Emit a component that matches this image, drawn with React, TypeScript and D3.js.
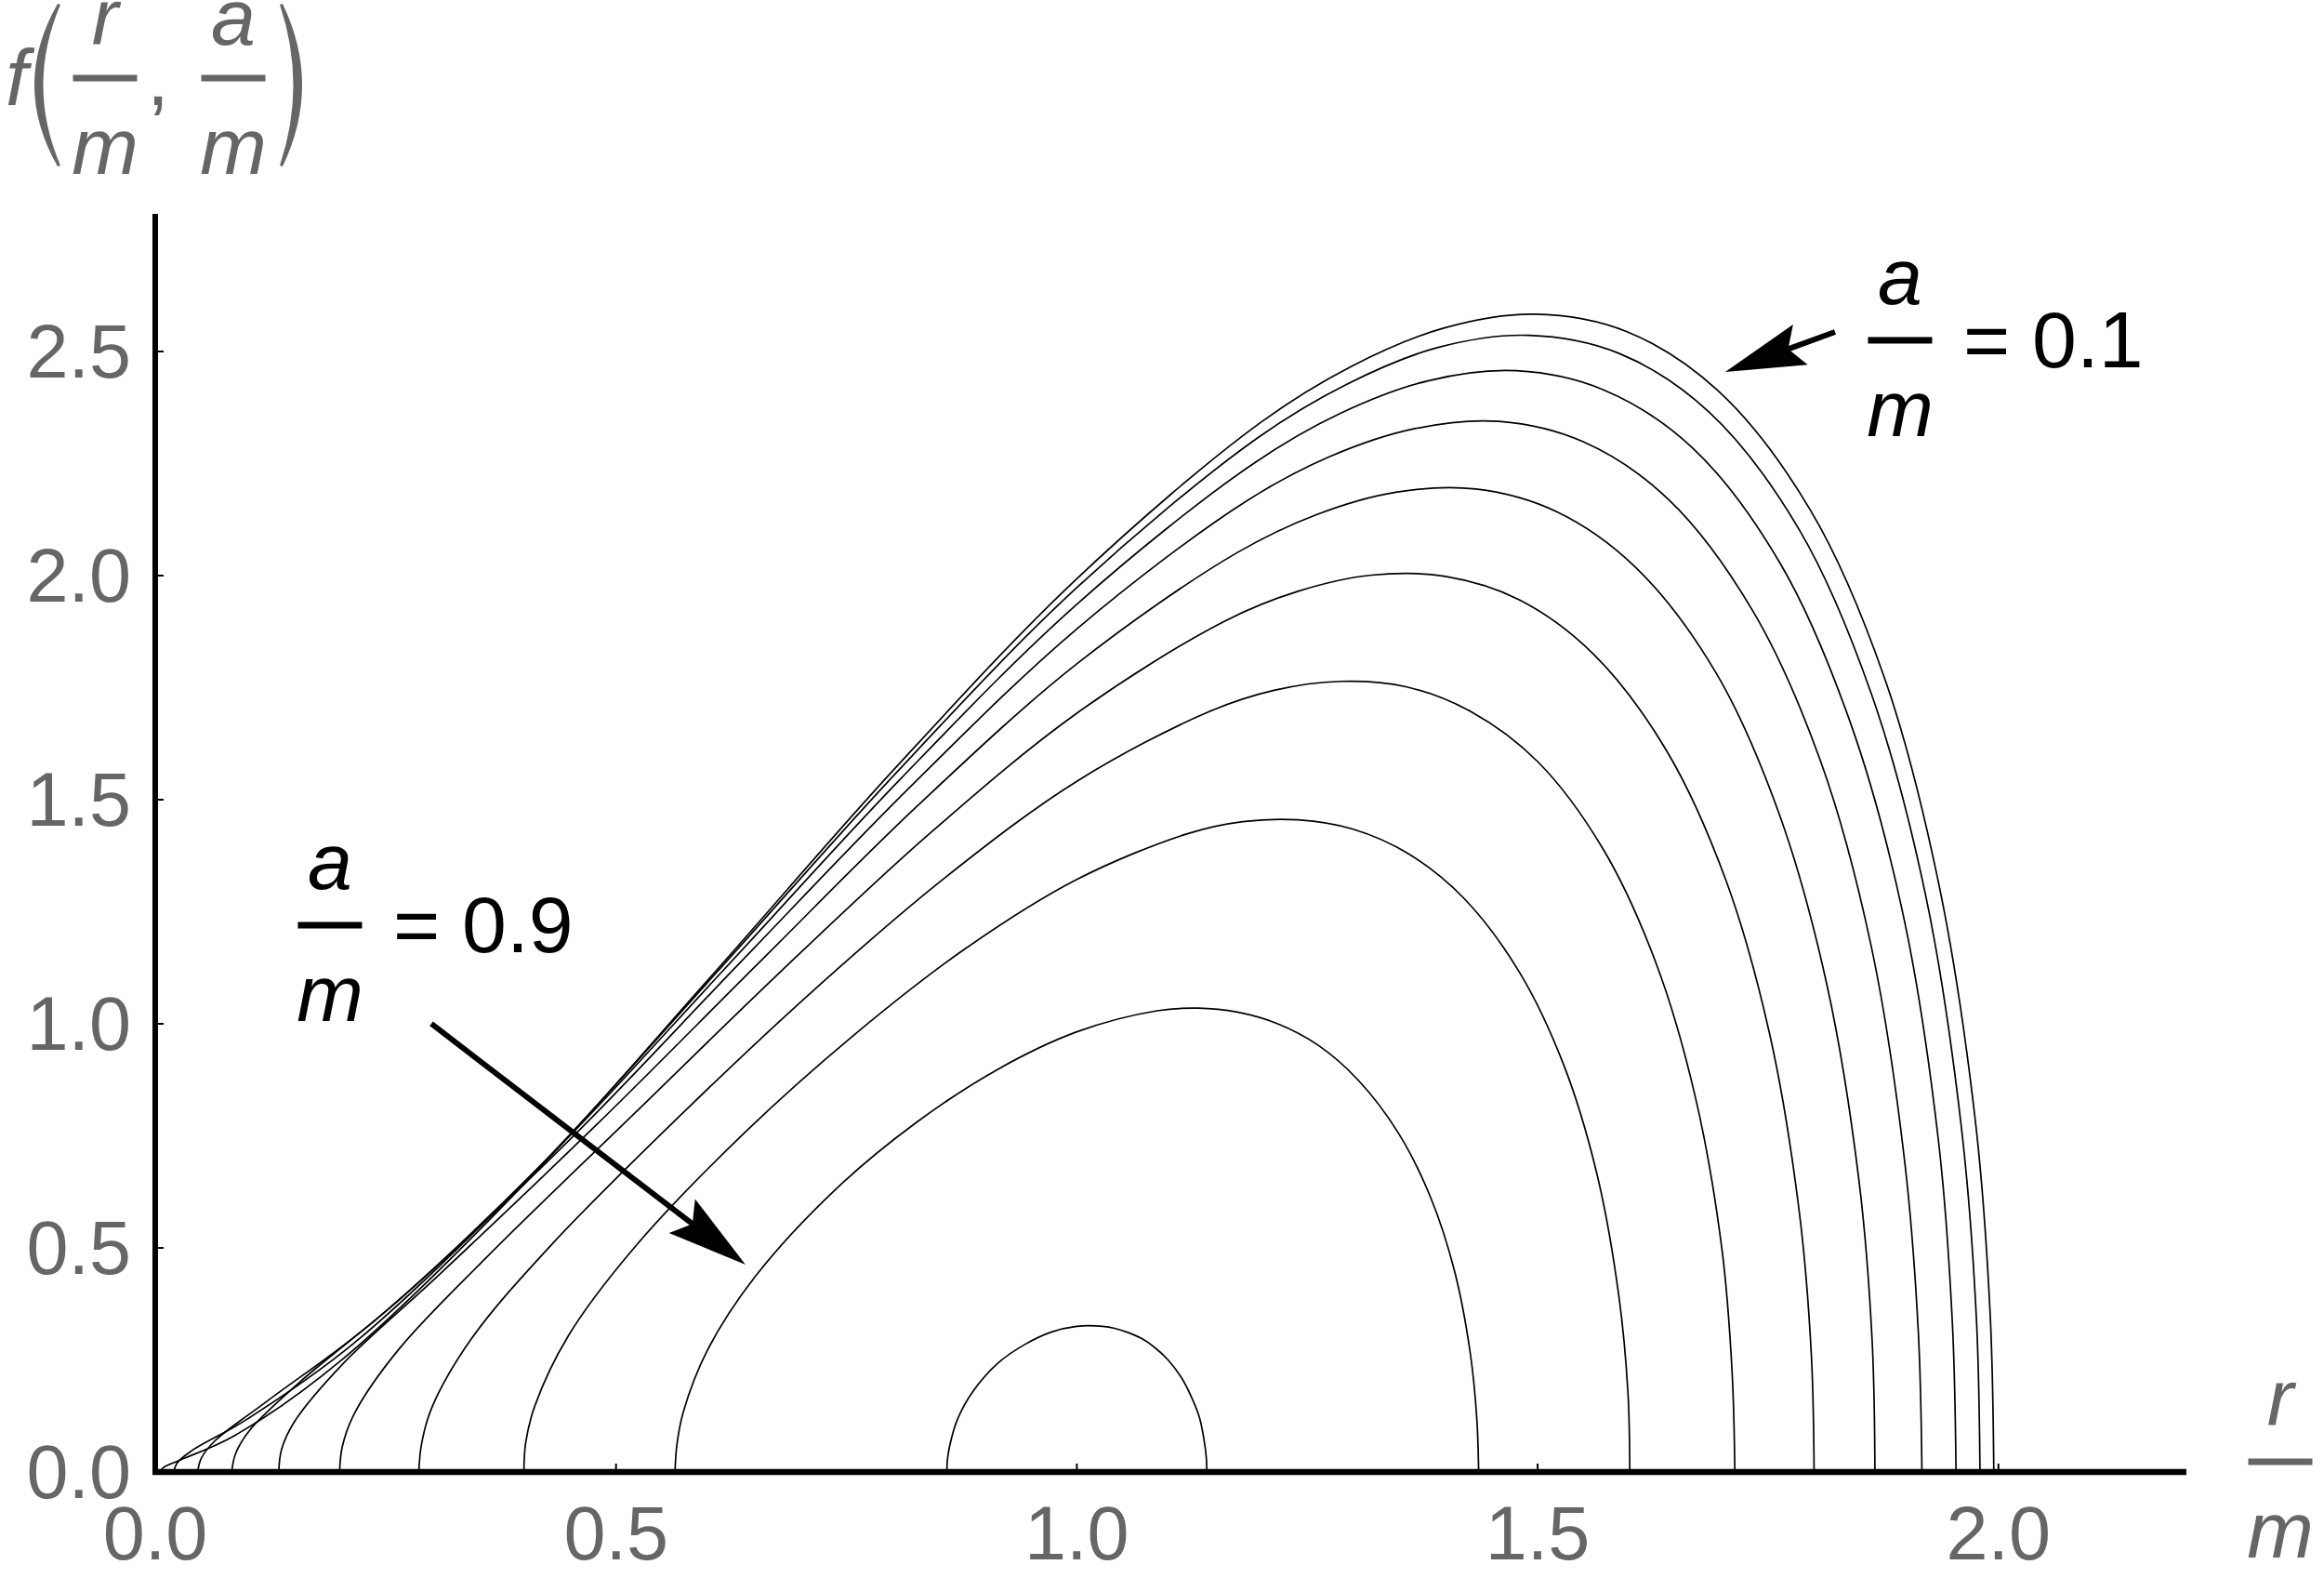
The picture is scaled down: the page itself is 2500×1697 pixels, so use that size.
import React from "react";
import * as d3 from "d3";

// ---- data ----
const xTicks = [0, 0.5, 1.0, 1.5, 2.0];
const yTicks = [0, 0.5, 1.0, 1.5, 2.0, 2.5];
const xMax = 2.204;
const yMax = 2.807;

const curveA01: [number, number][] = [[0.005,0],[0.009,0.010],[0.025,0.025],[0.085,0.080],[0.204,0.253],[0.403,0.648],[0.602,1.103],[0.801,1.566],[1.000,1.993],[1.199,2.341],[1.298,2.467],[1.398,2.552],[1.497,2.583],[1.597,2.544],[1.696,2.412],[1.796,2.146],[1.876,1.774],[1.935,1.315],[1.975,0.783],[1.991,0.354],[1.995,0]];
const curveA02: [number, number][] = [[0.020,0],[0.024,0.021],[0.040,0.048],[0.099,0.117],[0.216,0.288],[0.412,0.671],[0.608,1.112],[0.804,1.560],[1.000,1.973],[1.196,2.307],[1.294,2.428],[1.392,2.509],[1.490,2.536],[1.588,2.496],[1.686,2.365],[1.784,2.102],[1.862,1.737],[1.921,1.287],[1.960,0.766],[1.976,0.347],[1.980,0]];
const curveA03: [number, number][] = [[0.046,0],[0.050,0.031],[0.065,0.070],[0.122,0.159],[0.237,0.336],[0.428,0.704],[0.618,1.123],[0.809,1.547],[1.000,1.936],[1.191,2.249],[1.286,2.362],[1.382,2.435],[1.477,2.457],[1.572,2.414],[1.668,2.285],[1.763,2.028],[1.839,1.674],[1.897,1.240],[1.935,0.738],[1.950,0.334],[1.954,0]];
const curveA04: [number, number][] = [[0.083,0],[0.087,0.040],[0.102,0.092],[0.157,0.201],[0.267,0.388],[0.450,0.742],[0.633,1.133],[0.817,1.524],[1.000,1.881],[1.183,2.165],[1.275,2.266],[1.367,2.328],[1.458,2.344],[1.550,2.298],[1.642,2.170],[1.733,1.923],[1.807,1.586],[1.862,1.173],[1.898,0.698],[1.913,0.316],[1.917,0]];
const curveA05: [number, number][] = [[0.134,0],[0.137,0.050],[0.151,0.112],[0.203,0.240],[0.307,0.438],[0.480,0.777],[0.654,1.134],[0.827,1.486],[1.000,1.803],[1.173,2.050],[1.260,2.136],[1.346,2.186],[1.433,2.193],[1.520,2.143],[1.606,2.019],[1.693,1.785],[1.762,1.469],[1.814,1.086],[1.849,0.645],[1.863,0.292],[1.866,0]];
const curveA06: [number, number][] = [[0.200,0],[0.203,0.057],[0.216,0.130],[0.264,0.273],[0.360,0.480],[0.520,0.800],[0.680,1.119],[0.840,1.424],[1.000,1.693],[1.160,1.898],[1.240,1.965],[1.320,2.001],[1.400,1.998],[1.480,1.946],[1.560,1.826],[1.640,1.609],[1.704,1.322],[1.752,0.975],[1.784,0.579],[1.797,0.262],[1.800,0]];
const curveA07: [number, number][] = [[0.286,0],[0.289,0.063],[0.300,0.143],[0.343,0.297],[0.429,0.505],[0.572,0.800],[0.714,1.074],[0.857,1.326],[1.000,1.541],[1.143,1.696],[1.214,1.744],[1.286,1.764],[1.357,1.752],[1.428,1.696],[1.500,1.585],[1.571,1.390],[1.628,1.138],[1.671,0.838],[1.700,0.497],[1.711,0.224],[1.714,0]];
const curveA08: [number, number][] = [[0.400,0],[0.402,0.066],[0.412,0.148],[0.448,0.303],[0.520,0.501],[0.640,0.758],[0.760,0.978],[0.880,1.169],[1.000,1.322],[1.120,1.424],[1.180,1.451],[1.240,1.455],[1.300,1.434],[1.360,1.379],[1.420,1.280],[1.480,1.116],[1.528,0.910],[1.564,0.668],[1.588,0.395],[1.598,0.178],[1.600,0]];
const curveA09: [number, number][] = [[0.564,0],[0.566,0.060],[0.573,0.134],[0.599,0.271],[0.651,0.436],[0.738,0.630],[0.826,0.780],[0.913,0.897],[1.000,0.982],[1.087,1.029],[1.131,1.035],[1.174,1.026],[1.218,1.000],[1.262,0.952],[1.305,0.875],[1.349,0.756],[1.384,0.612],[1.410,0.447],[1.427,0.264],[1.434,0.119],[1.436,0]];
const curveA099: [number, number][] = [[0.859,0],[0.8595,0.026],[0.862,0.058],[0.870,0.115],[0.887,0.179],[0.915,0.244],[0.944,0.285],[0.972,0.312],[1.000,0.325],[1.028,0.325],[1.042,0.320],[1.056,0.311],[1.071,0.297],[1.085,0.277],[1.099,0.250],[1.113,0.212],[1.124,0.169],[1.133,0.122],[1.138,0.072],[1.1405,0.032],[1.141,0]];

const curves = [curveA01, curveA02, curveA03, curveA04, curveA05, curveA06, curveA07, curveA08, curveA09, curveA099];

// annotations (data coordinates)
const annotTop = { text: "= 0.1", label: [1.8933, 2.5249], tail: [1.8227, 2.5436], tip: [1.7036, 2.4544] };
const annotLow = { text: "= 0.9", label: [0.1896, 1.2199], tail: [0.2996, 1.0], tip: [0.6405, 0.4627] };

const FONT = "'Liberation Sans', Arial, Helvetica, sans-serif";
const GRAY = "#666666";

function Frac({ cx, cy, num, den, fill, numDy = 39 }: { cx: number; cy: number; num: string; den: string; fill: string; numDy?: number }) {
  return (
    <g fill={fill} fontFamily={FONT} fontStyle="italic" fontSize={86} textAnchor="middle">
      <text x={cx} y={cy - numDy}>{num}</text>
      <rect x={cx - 34.5} y={cy - 3.5} width={69} height={7} />
      <text x={cx} y={cy + 103}>{den}</text>
    </g>
  );
}

function Arrow({ tail, tip }: { tail: number[]; tip: number[] }) {
  const [x0, y0] = tail;
  const [x1, y1] = tip;
  const dx = x1 - x0, dy = y1 - y0;
  const len = Math.hypot(dx, dy);
  const ux = dx / len, uy = dy / len;
  const nx = -uy, ny = ux;
  const L = 86, Wd = 23, N = 72;
  const pts = [
    [x1, y1],
    [x1 - ux * L + nx * Wd, y1 - uy * L + ny * Wd],
    [x1 - ux * N, y1 - uy * N],
    [x1 - ux * L - nx * Wd, y1 - uy * L - ny * Wd],
  ];
  return (
    <g>
      <line x1={x0} y1={y0} x2={x1 - ux * N} y2={y1 - uy * N} stroke="#000" strokeWidth={6} />
      <polygon points={pts.map((p) => p.join(",")).join(" ")} fill="#000" />
    </g>
  );
}

export default function App() {
  const x = d3.scaleLinear().domain([0, xMax]).range([167, 2352]);
  const y = d3.scaleLinear().domain([0, yMax]).range([1583, 230]);
  const line = d3
    .line<[number, number]>()
    .x((d) => x(d[0]))
    .y((d) => y(d[1]))
    .curve(d3.curveCatmullRom.alpha(0.5));
  const fmt = d3.format(".1f");

  const annots = [annotTop, annotLow];

  return (
    <svg
      width={2500}
      height={1697}
      viewBox="0 0 2500 1697"
      style={{ position: "absolute", left: 0, top: 0, background: "#fff" }}
    >
      <rect x={0} y={0} width={2500} height={1697} fill="#fff" />

      {/* curves */}
      <g fill="none" stroke="#000" strokeWidth={1.7} strokeLinejoin="round">
        {curves.map((c, i) => (
          <path key={i} d={line(c) || ""} />
        ))}
      </g>

      {/* axes */}
      <line x1={x(0) - 3} y1={y(0)} x2={x(xMax)} y2={y(0)} stroke="#000" strokeWidth={6.5} />
      <line x1={x(0)} y1={y(0) + 3} x2={x(0)} y2={y(yMax)} stroke="#000" strokeWidth={6} />
      <g stroke="#000" strokeWidth={2}>
        {xTicks.map((t) => (
          <line key={"xt" + t} x1={x(t)} y1={y(0)} x2={x(t)} y2={y(0) - 9} />
        ))}
        {yTicks.map((t) => (
          <line key={"yt" + t} x1={x(0)} y1={y(t)} x2={x(0) + 9} y2={y(t)} />
        ))}
      </g>

      {/* tick labels */}
      <g fill={GRAY} fontFamily={FONT} fontSize={81}>
        {xTicks.map((t) => (
          <text key={"xl" + t} x={x(t)} y={y(0) + 94} textAnchor="middle">
            {fmt(t)}
          </text>
        ))}
        {yTicks.map((t) => (
          <text key={"yl" + t} x={x(0) - 26} y={y(t) + 28} textAnchor="end">
            {fmt(t)}
          </text>
        ))}
      </g>

      {/* y axis label f(r/m, a/m) */}
      <g fill={GRAY}>
        <text x={18} y={113} fontFamily={FONT} fontStyle="italic" fontSize={86} textAnchor="middle">
          f
        </text>
        <path d="M 62 4 Q 12 91.5 62 179 L 65 178 Q 28 91.5 65 5 Z" />
        <Frac cx={113} cy={84} num="r" den="m" fill={GRAY} numDy={36} />
        <text x={170} y={113} fontFamily={FONT} fontSize={86} textAnchor="middle">
          ,
        </text>
        <Frac cx={251} cy={84} num="a" den="m" fill={GRAY} numDy={36} />
        <path d="M 304 4 Q 346 91.5 304 179 L 301 178 Q 330 91.5 301 5 Z" />
      </g>

      {/* x axis label r/m */}
      <Frac cx={x(xMax) + 101} cy={1572} num="r" den="m" fill={GRAY} />

      {/* annotations */}
      {annots.map((a, i) => {
        const cx = x(a.label[0]);
        const cy = y(a.label[1]);
        return (
          <g key={"an" + i}>
            <Frac cx={cx} cy={cy} num="a" den="m" fill="#000" />
            <text x={cx + 68} y={cy + 29} fontFamily={FONT} fontSize={86} fill="#000">
              {a.text}
            </text>
            <Arrow tail={[x(a.tail[0]), y(a.tail[1])]} tip={[x(a.tip[0]), y(a.tip[1])]} />
          </g>
        );
      })}
    </svg>
  );
}
